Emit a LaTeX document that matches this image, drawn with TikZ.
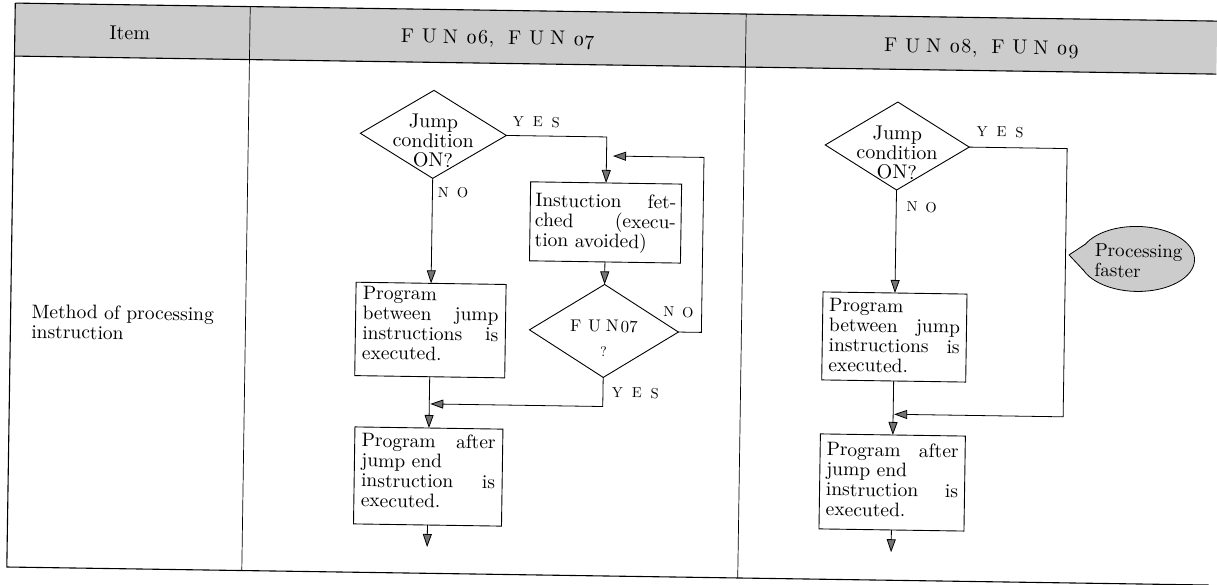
\documentclass[tikz,border=0pt]{standalone}
\usepackage{fontspec}
\setmainfont{lmroman10-regular.otf}
\usetikzlibrary{arrows.meta,shapes.geometric}

% top-aligned text block of fixed size: width, height, top padding, text
\newcommand{\flowtext}[4]{\begin{minipage}[c][#2][t]{#1}\vspace*{#3}\raggedright #4\end{minipage}}

\begin{document}
\begin{tikzpicture}[x=1pt,y=-1pt,
  every node/.style={inner sep=0pt, outer sep=0pt},
  body/.style={font=\fontsize{20}{19.5}\selectfont},
  boxfont/.style={font=\fontsize{19.5}{20}\selectfont},
  tag/.style={font=\fontsize{14.5}{16}\selectfont},
  procbox/.style={draw, line width=0.9pt, inner xsep=7pt, inner ysep=0pt, boxfont},
  decision/.style={draw, diamond, line width=0.9pt, inner sep=0pt},
  flow/.style={line width=0.8pt, -{Triangle[length=13pt,width=9pt,fill=black!55]}},
  rule/.style={line width=1.1pt},
  divider/.style={line width=0.7pt},
  shade/.style={fill=black!20},
]
\fill[white] (0,0) rectangle (1217,585);
\useasboundingbox (0,0) rectangle (1217,585);

\begin{scope}[rotate around={-0.86:(608,292)}, transform shape]
% ---------- table frame ----------
\fill[shade] (11,12) rectangle (1213,65);
\draw[rule] (11,12) -- (1213,12);
\draw[rule] (11,65) -- (1213,65);
\draw[rule] (11,12) -- (11,576) -- (1213,576);
\draw[divider] (246,12) -- (246,576);
\draw[divider] (742,12) -- (742,576);

\node[body] (hitem) at (126,40) {Item};
\node[body] (hjump) at (494,41) {F\hspace{8pt}U\hspace{6pt}N\hspace{8pt}\oldstylenums{06},\hspace{14pt}F\hspace{8pt}U\hspace{6pt}N\hspace{8pt}\oldstylenums{07}};
\node[body] (hfast) at (978,43) {F\hspace{8pt}U\hspace{6pt}N\hspace{8pt}\oldstylenums{08},\hspace{14pt}F\hspace{8pt}U\hspace{6pt}N\hspace{8pt}\oldstylenums{09}};

\node[align=left, anchor=west, font=\fontsize{19.5}{20}\selectfont] (method) at (32,330) {Method of processing\\instruction};

% ---------- FUN 06 / FUN 07 ----------
\node[decision, minimum width=146pt, minimum height=88pt] (mq) at (431,137) {};
\node[body, align=center] (mqt) at (431,143.5) {Jump\\condition\\ON?};

\node[procbox, inner xsep=5pt] (mfetch) at (604.5,222.5)
  {\flowtext{141pt}{79pt}{11pt}{Instuction\hfill fet-\\ched\hfill (execu-\\tion avoided)}};

\node[decision, minimum width=149pt, minimum height=93pt] (mfun) at (604.5,331) {};
\node[align=center, font=\fontsize{17}{25}\selectfont] (mfunt) at (604.5,338.7)
  {F\hspace{7pt}U\hspace{5pt}N\hspace{2pt}07\\{\fontsize{14}{25}\selectfont ?}};

\node[procbox] (mrun) at (431,332.7)
  {\flowtext{136pt}{93.4pt}{3.5pt}{Program\\between\hfill jump\\instructions\hfill is\\executed.}};
\node[procbox] (mafter) at (431,479.2)
  {\flowtext{134pt}{97pt}{6pt}{Program\hfill after\\jump end\\instruction\hfill is\\executed.}};

\node[tag, anchor=west] (myes) at (510.5,123) {Y\hspace{9pt}E\hspace{9pt}S};
\node[tag, anchor=west] (mno) at (436.5,195.3) {N\hspace{8pt}O};
\node[tag, anchor=west] (mno2) at (663.7,311) {N\hspace{8pt}O};
\node[tag, anchor=west] (myes2) at (613.5,392.6) {Y\hspace{9pt}E\hspace{9pt}S};

\coordinate (mloop) at (702,156);
\coordinate (mloopend) at (611,156);
\coordinate (mjoin) at (432,406.6);
\coordinate (mend) at (431,549.7);

\draw[flow] (mq.south) -- (mrun.north);
\draw[flow] (mq.east) -| (mfetch.north);
\draw[flow] (mfetch.south) -- (mfun.north);
\draw[flow] (mfun.east) -| (mloop) -- (mloopend);
\draw[flow] (mfun.south) |- (mjoin);
\draw[flow] (mrun.south) -- (mafter.north);
\draw[flow] (mafter.south) -- (mend);

% ---------- FUN 08 / FUN 09 ----------
\node[decision, minimum width=144pt, minimum height=88pt] (rq) at (895,141.7) {};
\node[body, align=center] (rqt) at (895,148.5) {Jump\\condition\\ON?};

\node[procbox, inner xsep=6.5pt] (rrun) at (895,332.7)
  {\flowtext{131pt}{88pt}{6pt}{Program\\between\hfill jump\\instructions\hfill is\\executed.}};
\node[procbox, inner xsep=6.5pt] (rafter) at (895,478.2)
  {\flowtext{132pt}{95pt}{8pt}{Program\hfill after\\jump end\\instruction\hfill is\\executed.}};

\node[tag, anchor=west] (ryes) at (974.3,126) {Y\hspace{9pt}E\hspace{9pt}S};
\node[tag, anchor=west] (rno) at (905.3,202.3) {N\hspace{8pt}O};

\coordinate (rside) at (1065,410);
\coordinate (rjoin) at (896,410);
\coordinate (rend) at (895,548);

\draw[flow] (rq.south) -- (rrun.north);
\draw[flow] (rq.east) -| (rside) -- (rjoin);
\draw[flow] (rrun.south) -- (rafter.north);
\draw[flow] (rafter.south) -- (rend);

% speech bubble
\node[ellipse, draw, line width=0.8pt, shade, minimum width=115pt, minimum height=65pt] (fast) at (1136.5,251) {};
\coordinate (fasttip) at (1068.5,248);
\fill[black!20] (fast.165) -- (fasttip) -- (fast.193) -- cycle;
\draw[line width=0.8pt, line join=round] (fast.165) -- (fasttip) -- (fast.193);
\node[align=left, font=\fontsize{19}{20}\selectfont] (fasttxt) at (1138,253) {Processing\\faster};
\end{scope}
\end{tikzpicture}
\end{document}
